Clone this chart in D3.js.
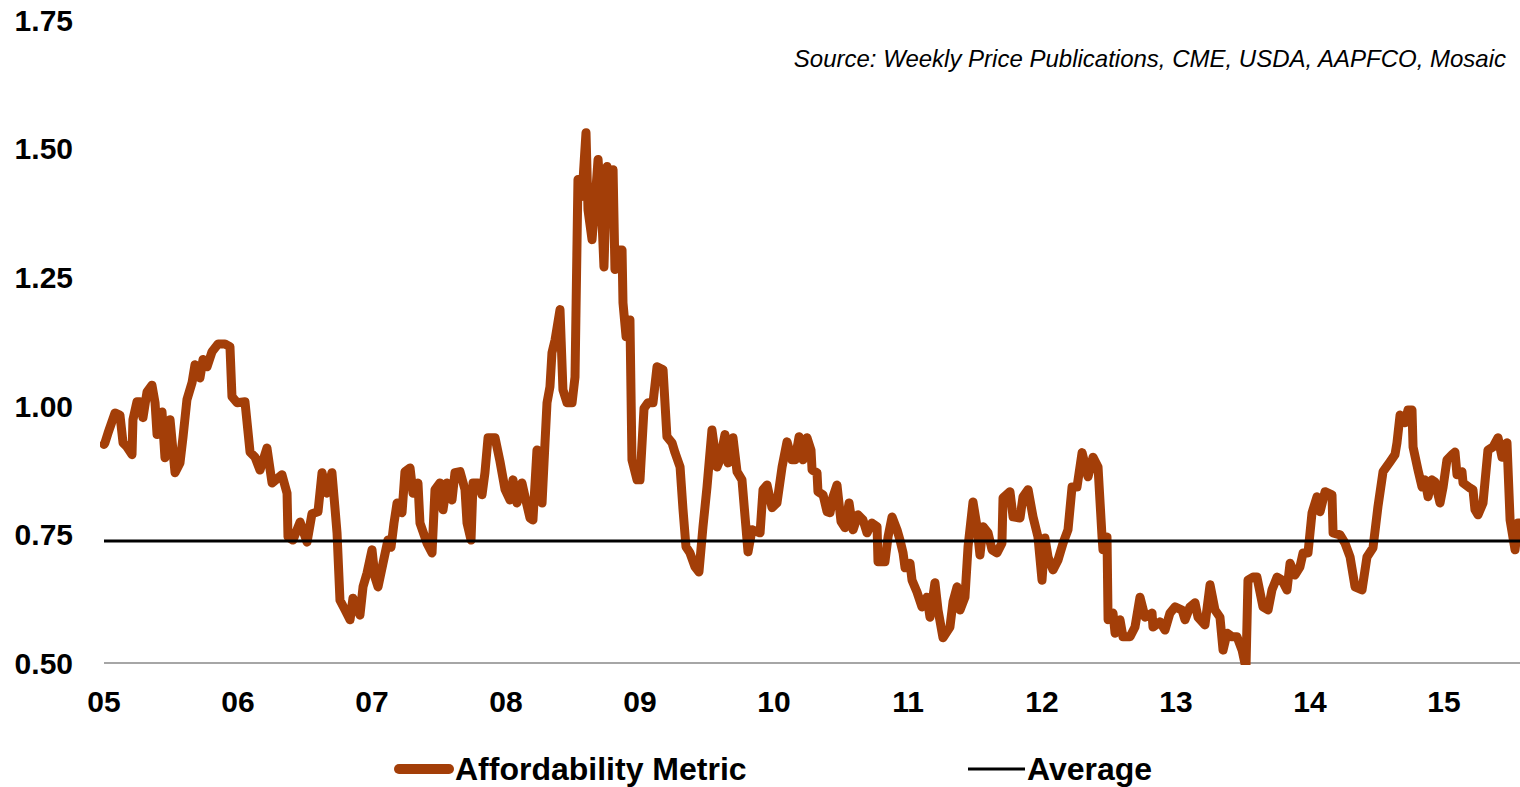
<!DOCTYPE html>
<html>
<head>
<meta charset="utf-8">
<script src="https://cdn.jsdelivr.net/npm/d3@7"></script>
<style>
  body { margin: 0; background: #fff; }
  svg { display: block; font-family: "Liberation Sans", Arial, sans-serif; }
</style>
</head>
<body>
<svg id="svg" width="1520" height="787"></svg>
<script>
// weekly observations, x = year of century (5 = Jan 2005)
var weeks = [
  5.000, 5.007, 5.030, 5.082, 5.119, 5.142, 5.172, 5.209, 5.216, 5.246, 5.269, 5.291, 5.321, 5.358, 5.381, 5.396,
  5.433, 5.455, 5.493, 5.530, 5.567, 5.590, 5.619, 5.657, 5.679, 5.716, 5.739, 5.769, 5.806, 5.851, 5.903, 5.940,
  5.955, 5.993, 6.052, 6.090, 6.127, 6.164, 6.216, 6.254, 6.328, 6.366, 6.373, 6.410, 6.463, 6.515, 6.552, 6.597,
  6.627, 6.664, 6.701, 6.724, 6.739, 6.761, 6.799, 6.836, 6.858, 6.910, 6.933, 6.963, 7.000, 7.022, 7.045, 7.082,
  7.119, 7.142, 7.164, 7.187, 7.224, 7.246, 7.284, 7.306, 7.343, 7.358, 7.410, 7.448, 7.470, 7.507, 7.530, 7.560,
  7.597, 7.619, 7.657, 7.694, 7.709, 7.739, 7.754, 7.791, 7.821, 7.843, 7.866, 7.918, 7.955, 7.993, 8.030, 8.052,
  8.082, 8.119, 8.142, 8.179, 8.201, 8.231, 8.254, 8.269, 8.291, 8.306, 8.328, 8.343, 8.366, 8.403, 8.425, 8.455,
  8.493, 8.515, 8.537, 8.567, 8.597, 8.612, 8.642, 8.664, 8.687, 8.716, 8.731, 8.754, 8.776, 8.799, 8.813, 8.836,
  8.866, 8.873, 8.896, 8.925, 8.940, 8.978, 9.000, 9.030, 9.060, 9.097, 9.127, 9.172, 9.201, 9.239, 9.261, 9.299,
  9.321, 9.343, 9.373, 9.410, 9.440, 9.470, 9.500, 9.537, 9.575, 9.597, 9.634, 9.657, 9.694, 9.724, 9.761, 9.784,
  9.806, 9.836, 9.873, 9.896, 9.918, 9.948, 9.985, 10.022, 10.060, 10.097, 10.134, 10.157, 10.187, 10.216, 10.246, 10.276,
  10.284, 10.321, 10.328, 10.366, 10.396, 10.418, 10.440, 10.470, 10.500, 10.530, 10.560, 10.590, 10.627, 10.664, 10.694, 10.731,
  10.769, 10.776, 10.828, 10.851, 10.881, 10.918, 10.940, 10.963, 10.978, 11.015, 11.030, 11.067, 11.104, 11.142, 11.164, 11.201,
  11.224, 11.261, 11.313, 11.336, 11.366, 11.388, 11.425, 11.448, 11.485, 11.515, 11.537, 11.560, 11.597, 11.627, 11.664, 11.701,
  11.709, 11.761, 11.784, 11.836, 11.858, 11.896, 11.933, 11.970, 12.000, 12.022, 12.045, 12.082, 12.119, 12.157, 12.194, 12.224,
  12.261, 12.299, 12.343, 12.381, 12.418, 12.448, 12.455, 12.485, 12.493, 12.530, 12.545, 12.582, 12.604, 12.657, 12.694, 12.731,
  12.769, 12.821, 12.828, 12.881, 12.918, 12.955, 12.993, 13.045, 13.067, 13.104, 13.142, 13.164, 13.216, 13.254, 13.291, 13.328,
  13.351, 13.381, 13.418, 13.455, 13.493, 13.522, 13.537, 13.575, 13.604, 13.649, 13.687, 13.716, 13.754, 13.791, 13.828, 13.851,
  13.888, 13.925, 13.948, 13.985, 14.015, 14.052, 14.075, 14.112, 14.164, 14.172, 14.224, 14.261, 14.299, 14.336, 14.388, 14.425,
  14.470, 14.507, 14.545, 14.597, 14.634, 14.649, 14.672, 14.709, 14.731, 14.761, 14.769, 14.806, 14.836, 14.858, 14.881, 14.910,
  14.933, 14.970, 14.993, 15.022, 15.060, 15.082, 15.097, 15.134, 15.142, 15.194, 15.216, 15.231, 15.254, 15.291, 15.328, 15.366,
  15.403, 15.433, 15.470, 15.493, 15.530, 15.552, 15.567
];
var metric = [
  0.925, 0.928, 0.947, 0.986, 0.982, 0.928, 0.920, 0.905, 0.973, 1.008, 1.008, 0.977, 1.027, 1.040, 1.006, 0.944,
  0.988, 0.899, 0.973, 0.870, 0.889, 0.940, 1.012, 1.045, 1.080, 1.054, 1.090, 1.076, 1.105, 1.120, 1.120, 1.115,
  1.018, 1.006, 1.008, 0.910, 0.900, 0.875, 0.918, 0.850, 0.866, 0.830, 0.745, 0.739, 0.774, 0.735, 0.790, 0.794,
  0.870, 0.830, 0.870, 0.800, 0.753, 0.622, 0.603, 0.584, 0.626, 0.593, 0.648, 0.675, 0.720, 0.667, 0.648, 0.694,
  0.739, 0.725, 0.772, 0.811, 0.792, 0.872, 0.879, 0.830, 0.850, 0.772, 0.733, 0.714, 0.837, 0.850, 0.798, 0.850,
  0.817, 0.870, 0.872, 0.837, 0.772, 0.739, 0.850, 0.850, 0.827, 0.870, 0.938, 0.938, 0.892, 0.837, 0.817, 0.856,
  0.811, 0.850, 0.823, 0.782, 0.778, 0.914, 0.862, 0.811, 0.928, 1.006, 1.037, 1.103, 1.128, 1.187, 1.031, 1.006,
  1.006, 1.056, 1.440, 1.407, 1.531, 1.381, 1.323, 1.395, 1.479, 1.362, 1.270, 1.465, 1.446, 1.459, 1.265, 1.303,
  1.303, 1.200, 1.134, 1.167, 0.895, 0.856, 0.856, 0.995, 1.006, 1.006, 1.076, 1.070, 0.940, 0.928, 0.909, 0.881,
  0.798, 0.726, 0.714, 0.687, 0.677, 0.765, 0.842, 0.953, 0.881, 0.895, 0.944, 0.889, 0.938, 0.872, 0.856, 0.784,
  0.716, 0.759, 0.755, 0.753, 0.837, 0.846, 0.802, 0.811, 0.881, 0.930, 0.895, 0.895, 0.940, 0.895, 0.938, 0.914,
  0.875, 0.870, 0.833, 0.827, 0.794, 0.792, 0.823, 0.846, 0.775, 0.763, 0.811, 0.759, 0.788, 0.778, 0.753, 0.772,
  0.765, 0.697, 0.697, 0.745, 0.784, 0.759, 0.739, 0.714, 0.685, 0.694, 0.661, 0.638, 0.609, 0.628, 0.589, 0.656,
  0.603, 0.549, 0.570, 0.619, 0.648, 0.603, 0.628, 0.726, 0.813, 0.765, 0.710, 0.765, 0.753, 0.720, 0.714, 0.733,
  0.821, 0.833, 0.784, 0.782, 0.823, 0.837, 0.784, 0.745, 0.661, 0.743, 0.706, 0.681, 0.700, 0.733, 0.759, 0.842,
  0.842, 0.909, 0.862, 0.900, 0.881, 0.745, 0.720, 0.745, 0.584, 0.597, 0.558, 0.584, 0.551, 0.551, 0.570, 0.628,
  0.589, 0.597, 0.570, 0.580, 0.564, 0.597, 0.609, 0.603, 0.584, 0.609, 0.617, 0.589, 0.574, 0.652, 0.603, 0.589,
  0.525, 0.558, 0.551, 0.551, 0.525, 0.490, 0.661, 0.667, 0.667, 0.609, 0.603, 0.642, 0.667, 0.661, 0.642, 0.694,
  0.671, 0.687, 0.714, 0.714, 0.792, 0.823, 0.794, 0.833, 0.827, 0.753, 0.749, 0.733, 0.706, 0.648, 0.642, 0.706,
  0.724, 0.804, 0.872, 0.891, 0.905, 0.928, 0.982, 0.967, 0.992, 0.992, 0.920, 0.875, 0.842, 0.856, 0.823, 0.856,
  0.852, 0.811, 0.842, 0.895, 0.905, 0.910, 0.866, 0.872, 0.850, 0.840, 0.837, 0.798, 0.788, 0.811, 0.914, 0.920,
  0.938, 0.900, 0.928, 0.778, 0.720, 0.772, 0.772
];
var averageValue = 0.737;
var yTicks = [0.50, 0.75, 1.00, 1.25, 1.50, 1.75];
var xTicks = [5, 6, 7, 8, 9, 10, 11, 12, 13, 14, 15];
var seriesNames = ["Affordability Metric", "Average"];
var sourceText = "Source: Weekly Price Publications, CME, USDA, AAPFCO, Mosaic";

var brown = "#a33e08";

var svg = d3.select("#svg");
var x = d3.scaleLinear().domain([5, d3.max(weeks)]).range([104, 1520]);
var y = d3.scaleLinear().domain([0.5, 1.75]).range([663, 20]);

svg.append("defs").append("clipPath").attr("id", "plot-clip")
  .append("rect").attr("x", 100).attr("y", 0).attr("width", 1420).attr("height", y(0.5) + 2);

// y labels
svg.append("g").selectAll("text").data(yTicks).enter().append("text")
  .attr("x", 73)
  .attr("y", d => y(d))
  .attr("dy", "0.36em")
  .attr("text-anchor", "end")
  .attr("font-size", 30)
  .attr("font-weight", "bold")
  .text(d => d3.format(".2f")(d));

// x labels
svg.append("g").selectAll("text").data(xTicks).enter().append("text")
  .attr("x", d => x(d))
  .attr("y", 712)
  .attr("text-anchor", "middle")
  .attr("font-size", 30)
  .attr("font-weight", "bold")
  .text(d => d3.format("02d")(d));

// base line
svg.append("line")
  .attr("x1", x(5)).attr("x2", 1520)
  .attr("y1", y(0.5)).attr("y2", y(0.5))
  .attr("stroke", "#a6a6a6").attr("stroke-width", 2);

var line = d3.line()
  .x((d, i) => x(weeks[i]))
  .y(d => y(d));

svg.append("path")
  .attr("clip-path", "url(#plot-clip)")
  .attr("d", line(metric))
  .attr("fill", "none")
  .attr("stroke", brown)
  .attr("stroke-width", 9)
  .attr("stroke-linejoin", "round")
  .attr("stroke-linecap", "round");

svg.append("line")
  .attr("x1", x(5)).attr("x2", x(d3.max(weeks)))
  .attr("y1", y(averageValue)).attr("y2", y(averageValue))
  .attr("stroke", "#000").attr("stroke-width", 3);

svg.append("text")
  .attr("x", 1506).attr("y", 67)
  .attr("text-anchor", "end")
  .attr("font-size", 24)
  .attr("font-style", "italic")
  .text(sourceText);

// legend
let legend = svg.append("g");
legend.append("line")
  .attr("x1", 399).attr("x2", 449).attr("y1", 769).attr("y2", 769)
  .attr("stroke", brown).attr("stroke-width", 10).attr("stroke-linecap", "round");
legend.append("text")
  .attr("x", 455).attr("y", 780)
  .attr("font-size", 32).attr("font-weight", "bold")
  .text(seriesNames[0]);
legend.append("line")
  .attr("x1", 968).attr("x2", 1025).attr("y1", 769).attr("y2", 769)
  .attr("stroke", "#000").attr("stroke-width", 3);
legend.append("text")
  .attr("x", 1027).attr("y", 780)
  .attr("font-size", 32).attr("font-weight", "bold")
  .text(seriesNames[1]);
</script>
</body>
</html>
